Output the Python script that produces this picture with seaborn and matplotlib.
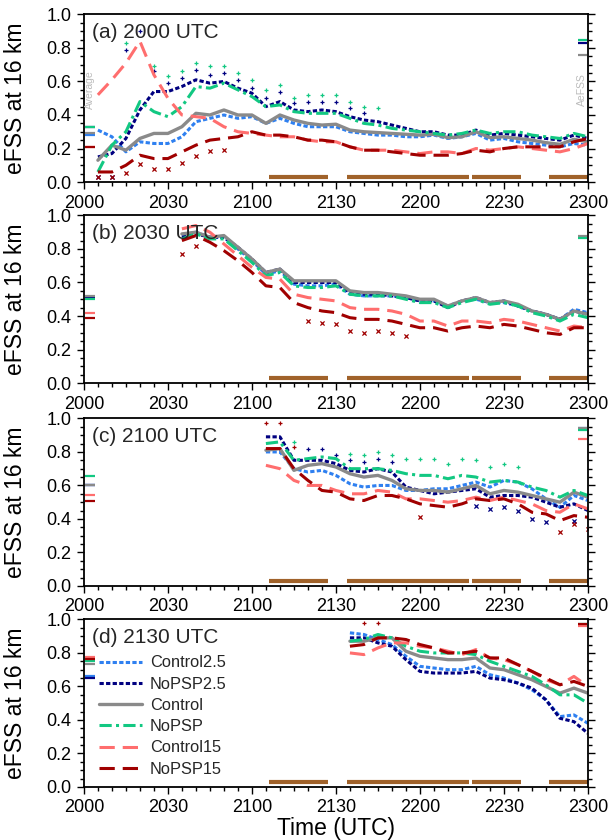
import numpy as np
import pandas as pd
import seaborn as sns
import matplotlib.pyplot as plt
from matplotlib.ticker import MultipleLocator

sns.set_theme(style="ticks")
plt.rcParams['font.family'] = ['Liberation Sans', 'DejaVu Sans']

# minutes after 2000 UTC, one value every 5 min
times = list(range(5, 185, 5))
tick_pos = [0, 30, 60, 90, 120, 150, 180]
tick_labels = ["2000", "2030", "2100", "2130", "2200", "2230", "2300"]

names = ["Control2.5", "NoPSP2.5", "Control", "NoPSP", "Control15", "NoPSP15"]

# ---- panel (a) 2000 UTC ----
a_c25 = [0.31, 0.27, 0.18, 0.24, 0.23, 0.23, 0.27, 0.36, 0.38, 0.40, 0.38, 0.39, 0.35, 0.38, 0.35, 0.33, 0.33, 0.33,
         0.30, 0.29, 0.28, 0.28, 0.27, 0.27, 0.28, 0.26, 0.27, 0.29, 0.25, 0.26, 0.24, 0.23, 0.22, 0.21, 0.23, 0.22]
a_n25 = [0.15, 0.17, 0.26, 0.43, 0.54, 0.54, 0.57, 0.61, 0.59, 0.60, 0.56, 0.53, 0.45, 0.48, 0.43, 0.42, 0.43, 0.42,
         0.39, 0.37, 0.36, 0.34, 0.32, 0.30, 0.30, 0.28, 0.28, 0.31, 0.28, 0.29, 0.28, 0.27, 0.26, 0.25, 0.28, 0.26]
a_ctl = [0.13, 0.22, 0.19, 0.26, 0.29, 0.29, 0.33, 0.41, 0.40, 0.43, 0.40, 0.40, 0.35, 0.40, 0.37, 0.35, 0.34, 0.345,
         0.31, 0.30, 0.295, 0.29, 0.285, 0.28, 0.285, 0.265, 0.27, 0.30, 0.265, 0.27, 0.26, 0.25, 0.235, 0.225, 0.255, 0.24]
a_npsp = [0.06, 0.22, 0.30, 0.48, 0.42, 0.39, 0.45, 0.57, 0.56, 0.59, 0.55, 0.51, 0.45, 0.46, 0.42, 0.41, 0.41, 0.41,
          0.38, 0.35, 0.34, 0.32, 0.31, 0.30, 0.29, 0.28, 0.29, 0.31, 0.29, 0.30, 0.30, 0.28, 0.27, 0.26, 0.29, 0.27]
a_c15 = [0.52, 0.61, 0.71, 0.84, 0.64, 0.50, 0.40, 0.39, 0.38, 0.33, 0.30, 0.29, 0.28, 0.27, 0.27, 0.25, 0.24, 0.24,
         0.21, 0.19, 0.19, 0.19, 0.18, 0.17, 0.18, 0.18, 0.17, 0.20, 0.19, 0.20, 0.21, 0.20, 0.19, 0.18, 0.20, 0.23]
a_n15 = [0.06, 0.06, 0.10, 0.16, 0.14, 0.14, 0.18, 0.22, 0.25, 0.26, 0.27, 0.30, 0.28, 0.28, 0.27, 0.25, 0.25, 0.24,
         0.21, 0.19, 0.19, 0.18, 0.17, 0.16, 0.16, 0.16, 0.17, 0.19, 0.18, 0.20, 0.21, 0.21, 0.21, 0.21, 0.24, 0.26]

# ---- panel (b) 2030 UTC, from 2035 ----
b_c25 = [0.88, 0.90, 0.87, 0.87, 0.80, 0.73, 0.65, 0.67, 0.59, 0.58, 0.58, 0.59, 0.53, 0.52, 0.52,
         0.52, 0.51, 0.49, 0.49, 0.46, 0.49, 0.50, 0.48, 0.48, 0.46, 0.43, 0.41, 0.38, 0.44, 0.42]
b_n25 = [0.87, 0.89, 0.87, 0.87, 0.81, 0.74, 0.66, 0.68, 0.60, 0.60, 0.60, 0.60, 0.54, 0.53, 0.53,
         0.52, 0.51, 0.49, 0.49, 0.45, 0.49, 0.51, 0.48, 0.49, 0.46, 0.43, 0.41, 0.38, 0.43, 0.41]
b_ctl = [0.89, 0.90, 0.87, 0.88, 0.81, 0.74, 0.66, 0.68, 0.61, 0.61, 0.61, 0.61, 0.55, 0.54, 0.54,
         0.53, 0.52, 0.50, 0.50, 0.46, 0.49, 0.51, 0.48, 0.49, 0.47, 0.43, 0.41, 0.38, 0.43, 0.41]
b_npsp = [0.86, 0.89, 0.86, 0.86, 0.79, 0.72, 0.64, 0.66, 0.58, 0.57, 0.57, 0.58, 0.53, 0.52, 0.52,
          0.52, 0.50, 0.48, 0.48, 0.45, 0.48, 0.50, 0.47, 0.48, 0.46, 0.42, 0.40, 0.37, 0.41, 0.39]
b_c15 = [0.92, 0.94, 0.90, 0.83, 0.76, 0.69, 0.63, 0.62, 0.53, 0.51, 0.50, 0.49, 0.45, 0.44, 0.44,
         0.43, 0.41, 0.37, 0.37, 0.34, 0.37, 0.37, 0.36, 0.38, 0.37, 0.35, 0.33, 0.31, 0.34, 0.33]
b_n15 = [0.85, 0.88, 0.84, 0.79, 0.73, 0.66, 0.58, 0.57, 0.48, 0.45, 0.43, 0.42, 0.39, 0.38, 0.38,
         0.37, 0.35, 0.33, 0.33, 0.31, 0.33, 0.34, 0.33, 0.35, 0.34, 0.32, 0.30, 0.29, 0.33, 0.33]

# ---- panel (c) 2100 UTC, from 2105 ----
c_c25 = [0.80, 0.80, 0.70, 0.68, 0.69, 0.66, 0.61, 0.59, 0.60, 0.60, 0.57, 0.57,
         0.58, 0.58, 0.60, 0.62, 0.59, 0.63, 0.62, 0.58, 0.52, 0.47, 0.54, 0.51]
c_n25 = [0.89, 0.89, 0.75, 0.75, 0.75, 0.73, 0.69, 0.68, 0.70, 0.68, 0.59, 0.57,
         0.55, 0.56, 0.57, 0.58, 0.53, 0.54, 0.54, 0.53, 0.50, 0.47, 0.49, 0.45]
c_ctl = [0.81, 0.82, 0.69, 0.72, 0.73, 0.71, 0.67, 0.65, 0.66, 0.63, 0.58, 0.57,
         0.57, 0.56, 0.58, 0.60, 0.55, 0.57, 0.56, 0.54, 0.52, 0.50, 0.56, 0.53]
c_npsp = [0.85, 0.86, 0.75, 0.76, 0.77, 0.76, 0.70, 0.70, 0.70, 0.69, 0.67, 0.66,
          0.66, 0.64, 0.66, 0.65, 0.62, 0.63, 0.62, 0.59, 0.57, 0.53, 0.57, 0.54]
c_c15 = [0.72, 0.70, 0.63, 0.60, 0.60, 0.57, 0.55, 0.55, 0.57, 0.56, 0.52, 0.52,
         0.51, 0.50, 0.51, 0.53, 0.51, 0.53, 0.51, 0.49, 0.45, 0.44, 0.49, 0.46]
c_n15 = [0.82, 0.82, 0.70, 0.63, 0.57, 0.56, 0.52, 0.51, 0.54, 0.54, 0.52, 0.49,
         0.48, 0.47, 0.49, 0.52, 0.51, 0.52, 0.49, 0.44, 0.43, 0.39, 0.42, 0.41]

# ---- panel (d) 2130 UTC, from 2135 ----
d_c25 = [0.92, 0.91, 0.88, 0.85, 0.78, 0.72, 0.71, 0.70, 0.70, 0.72, 0.67, 0.65, 0.62, 0.58, 0.52, 0.42, 0.43, 0.38]
d_n25 = [0.89, 0.89, 0.86, 0.84, 0.76, 0.69, 0.68, 0.68, 0.68, 0.69, 0.65, 0.64, 0.62, 0.59, 0.52, 0.41, 0.39, 0.32]
d_ctl = [0.87, 0.87, 0.89, 0.89, 0.81, 0.78, 0.77, 0.76, 0.76, 0.77, 0.71, 0.70, 0.67, 0.64, 0.60, 0.56, 0.59, 0.56]
d_npsp = [0.87, 0.88, 0.91, 0.89, 0.84, 0.81, 0.80, 0.80, 0.80, 0.79, 0.75, 0.72, 0.69, 0.66, 0.61, 0.55, 0.55, 0.50]
d_c15 = [0.80, 0.79, 0.83, 0.86, 0.86, 0.84, 0.83, 0.81, 0.79, 0.82, 0.77, 0.76, 0.73, 0.69, 0.64, 0.61, 0.66, 0.60]
d_n15 = [0.84, 0.85, 0.89, 0.89, 0.88, 0.85, 0.83, 0.80, 0.80, 0.81, 0.77, 0.77, 0.73, 0.69, 0.65, 0.61, 0.63, 0.60]

# time-averaged eFSS (left) and AeFSS (right), order = names
avg_a = [0.28, 0.33, 0.29, 0.33, 0.21, 0.21]
aefss_a = [None, 0.83, 0.76, 0.85, None, None]
avg_b = [0.515, 0.515, 0.52, 0.50, 0.42, 0.39]
aefss_b = [0.87, 0.87, 0.875, 0.865, None, None]
avg_c = [0.60, 0.60, 0.60, 0.655, 0.54, 0.51]
aefss_c = [0.94, None, 0.94, 0.93, 0.88, None]
avg_d = [0.665, 0.65, 0.735, 0.75, 0.775, 0.765]
aefss_d = [None, None, 0.965, 0.97, 0.96, 0.97]

# significance markers: (series index, marker, times, values)
sig_a = [
    (3, "+", [15, 25, 30, 35, 40, 45, 50, 55, 60, 65, 70, 75, 80, 85, 90, 95, 100, 105],
     [0.83, 0.69, 0.63, 0.66, 0.71, 0.69, 0.69, 0.65, 0.61, 0.55, 0.58, 0.50, 0.52, 0.52, 0.52, 0.48, 0.45, 0.44]),
    (1, "+", [15, 20, 25, 30, 35, 40, 45, 50, 55, 60, 65, 70, 75, 80, 85, 90, 95, 100],
     [0.79, 0.90, 0.66, 0.59, 0.62, 0.67, 0.64, 0.65, 0.61, 0.56, 0.50, 0.54, 0.47, 0.48, 0.48, 0.48, 0.44, 0.41]),
    (1, "x", [5, 10], [0.03, 0.03]),
    (5, "x", [5, 10, 15, 20, 25, 30, 35, 40, 45, 50],
     [0.03, 0.03, 0.055, 0.105, 0.075, 0.08, 0.115, 0.155, 0.185, 0.19]),
]
sig_b = [
    (5, "x", [35, 40, 80, 85, 90, 95, 100, 105, 110, 115],
     [0.77, 0.82, 0.37, 0.36, 0.35, 0.31, 0.30, 0.31, 0.30, 0.28]),
]
sig_c = [
    (5, "+", [65, 70, 75], [0.97, 0.97, 0.83]),
    (3, "+", [75, 95, 100, 105, 110, 115, 120, 125, 130, 135, 140, 145, 150, 155],
     [0.86, 0.79, 0.78, 0.80, 0.78, 0.76, 0.76, 0.76, 0.73, 0.76, 0.75, 0.71, 0.73, 0.71]),
    (1, "+", [80, 85, 90, 95, 100, 105, 110], [0.82, 0.82, 0.78, 0.75, 0.74, 0.76, 0.74]),
    (1, "x", [140, 145, 150, 155, 160, 165, 175], [0.48, 0.46, 0.47, 0.45, 0.40, 0.38, 0.39]),
    (5, "x", [120, 170, 175, 180], [0.41, 0.32, 0.37, 0.34]),
]
sig_d = [
    (5, "+", [100, 105], [0.98, 0.98]),
]

# brown bars near the x axis (start, end in minutes after 2000)
bar_start = [66, 94, 138.5, 166]
bar_end = [87, 137.5, 156, 180]

panels = [
    ("(a) 2000 UTC", 5, [a_c25, a_n25, a_ctl, a_npsp, a_c15, a_n15], avg_a, aefss_a, sig_a),
    ("(b) 2030 UTC", 35, [b_c25, b_n25, b_ctl, b_npsp, b_c15, b_n15], avg_b, aefss_b, sig_b),
    ("(c) 2100 UTC", 65, [c_c25, c_n25, c_ctl, c_npsp, c_c15, c_n15], avg_c, aefss_c, sig_c),
    ("(d) 2130 UTC", 95, [d_c25, d_n25, d_ctl, d_npsp, d_c15, d_n15], avg_d, aefss_d, sig_d),
]

colors = ["#2F80F0", "#000080", "#8A8A8A", "#12C882", "#FF6E6E", "#A00000"]
styles = [(0, (1.4, 0.75)), (0, (1.4, 0.75)), "-", (0, (4, 1.4, 1, 1.4)), (0, (5, 2.6)), (0, (5, 2.6))]
widths = [2.2, 2.2, 2.4, 2.2, 2.2, 2.2]

fig = plt.figure(figsize=(6.08, 8.4), dpi=100)
bottoms = [0.7833, 0.544, 0.3024, 0.0631]

for i, (title, start, series, avg, aefss, sig) in enumerate(panels):
    ax = fig.add_axes([0.138, bottoms[i], 0.829, 0.1995])
    t = times[times.index(start):]
    for k in range(6):
        sns.lineplot(x=t, y=series[k], ax=ax, color=colors[k], linestyle=styles[k],
                     linewidth=widths[k], label=names[k] if i == 3 else None, legend=False)
        if avg[k] is not None:
            ax.hlines(avg[k], 0.4, 3.9, color=colors[k], linewidth=1.6)
        if aefss[k] is not None:
            ax.hlines(aefss[k], 176.4, 179.6, color=colors[k], linewidth=1.6)
    for k, mk, st, sv in sig:
        sns.scatterplot(x=st, y=sv, ax=ax, marker=mk, color=colors[k], s=9,
                        linewidth=0.9, legend=False)
    ax.hlines([0.03] * len(bar_start), bar_start, bar_end, color="#A0622A", linewidth=3)

    ax.set_xlim(0, 180)
    ax.set_ylim(0, 1)
    ax.set_xticks(tick_pos)
    ax.set_xticklabels(tick_labels)
    ax.xaxis.set_minor_locator(MultipleLocator(5))
    ax.set_yticks(np.arange(0, 1.01, 0.2))
    ax.set_yticklabels([f"{v:.1f}" for v in np.arange(0, 1.01, 0.2)])
    ax.yaxis.set_minor_locator(MultipleLocator(0.05))
    ax.tick_params(which="both", direction="out", right=True, top=False,
                   labelsize=13, color="black", labelcolor="black", width=1)
    ax.tick_params(which="major", length=5, pad=4)
    ax.tick_params(which="minor", length=3)
    for sp in ax.spines.values():
        sp.set_linewidth(1.3)
        sp.set_color("black")

    ax.set_ylabel("eFSS at 16 km", fontsize=16.5, color="black")
    ax.yaxis.set_label_coords(-0.113, 0.5)
    ax.set_xlabel("")
    ax.text(0.016, 0.89, title, transform=ax.transAxes, fontsize=15, va="center", ha="left")

    if i == 0:
        ax.text(2.3, 0.55, "Average", rotation=90, color="#BBBBBB", fontsize=7.5,
                ha="center", va="center")
        ax.text(177.9, 0.55, "AeFSS", rotation=90, color="#BBBBBB", fontsize=7.5,
                ha="center", va="center")
    if i == 3:
        ax.set_xlabel("Time (UTC)", fontsize=16.5, color="black")
        ax.xaxis.set_label_coords(0.5, -0.18)
        ax.legend(loc="upper left", bbox_to_anchor=(0.03, 0.785), frameon=False,
                  fontsize=11.8, handlelength=2.6, handletextpad=0.5, labelspacing=0.38,
                  borderpad=0, borderaxespad=0)

fig.savefig("out.png", dpi=100)
